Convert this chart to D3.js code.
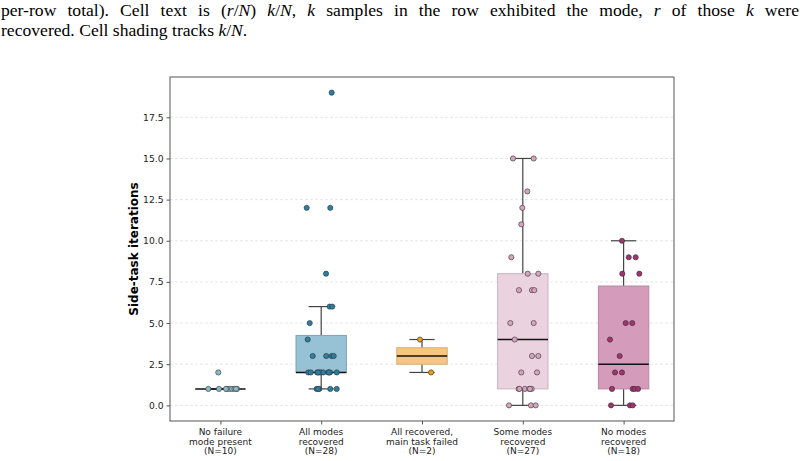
<!DOCTYPE html>
<html>
<head>
<meta charset="utf-8">
<script src="https://cdn.jsdelivr.net/npm/d3@7"></script>
<style>
  html, body { margin: 0; padding: 0; background: #fff; }
  svg { display: block; }
</style>
</head>
<body>
<svg id="chart" width="804" height="461"></svg>
<script>
// ---- data ----
const categories = [
  ["No failure", "mode present", "(N=10)"],
  ["All modes", "recovered", "(N=28)"],
  ["All recovered,", "main task failed", "(N=2)"],
  ["Some modes", "recovered", "(N=27)"],
  ["No modes", "recovered", "(N=18)"]
];
const valsNoFailure = [1,1,1,1,1,1,1,1,1,2];
const jitNoFailure  = [-0.12,-0.014,0.065,0.09,0.115,0.14,0.165,0.055,0.155,-0.021];
const valsAllRecovered = [19,12,12,8,6,6,5,4,3,3,3,3,2,2,2,2,2,2,2,2,2,2,2,1,1,1,1,1];
const jitAllRecovered  = [0.104,-0.144,0.09,0.048,0.084,0.11,-0.114,-0.134,-0.084,0.05,0.104,0.124,
  -0.128,-0.104,-0.039,-0.019,-0.002,0.021,0.07,0.087,0.154,-0.032,0.077,-0.045,-0.019,0.09,0.154,-0.03];
const valsMainFailed = [4,2];
const jitMainFailed  = [-0.02,0.09];
const valsSome = [15,15,13,12,11,9,8,8,7,7,7,5,5,4,3,3,2,2,1,1,1,1,1,1,0,0,0];
const jitSome  = [-0.097,0.108,0.045,-0.005,-0.015,-0.114,0.049,0.154,-0.038,0.091,0.114,-0.124,0.108,
  -0.08,0.091,0.154,-0.015,0.141,-0.041,0.022,0.064,0.088,0.071,-0.033,-0.137,0.081,0.128];
const valsNone = [10,9,9,8,8,5,5,4,3,2,2,1,1,1,1,0,0,0];
const jitNone  = [-0.016,0.051,0.12,-0.013,0.156,0.021,0.086,-0.135,-0.039,-0.085,-0.016,-0.115,0.09,0.11,0.143,-0.125,0.063,0.09];
const seriesValues = [valsNoFailure, valsAllRecovered, valsMainFailed, valsSome, valsNone];
const seriesJitter = [jitNoFailure, jitAllRecovered, jitMainFailed, jitSome, jitNone];
const yTicks = [0, 2.5, 5, 7.5, 10, 12.5, 15, 17.5];
const yLabel = "Side-task iterations";

// ---- styles ----
const pointColors = ["#8fb9c7", "#2c7ea3", "#eb9b1a", "#d6a4be", "#a3326f"];
const boxColors   = ["#c4dbe3", "#97c1d4", "#f7c680", "#ead2df", "#d49bbb"];
const boxEdges    = ["#9fb5bd", "#7fa4b5", "#d8ac6e", "#c9b4c0", "#b886a2"];

const svg = d3.select("#chart");
const m = {left: 170, right: 674, top: 77, bottom: 421};

// caption text at top
const cap = svg.append("g").attr("font-family", "Liberation Serif, Times New Roman, serif").attr("font-size", 17.6).attr("fill", "#000");
const l1 = cap.append("text").attr("x", 1).attr("y", 16);
const parts1 = [
  ["per-row total). Cell text is (", false], ["r", true], ["/", false], ["N", true], [") ", false],
  ["k", true], ["/", false], ["N", true], [", ", false], ["k", true],
  [" samples in the row exhibited the mode, ", false], ["r", true], [" of those ", false], ["k", true], [" were", false]
];
parts1.forEach(p => l1.append("tspan").attr("font-style", p[1] ? "italic" : "normal").text(p[0]));
{
  const natural = l1.node().getComputedTextLength();
  const spaces = parts1.map(p => p[0]).join("").split(" ").length - 1;
  const ws = Math.max(0, (798 - natural) / spaces);
  l1.attr("word-spacing", ws);
}
const l2 = cap.append("text").attr("x", 1).attr("y", 36);
const parts2 = [["recovered. Cell shading tracks ", false], ["k", true], ["/", false], ["N", true], [".", false]];
parts2.forEach(p => l2.append("tspan").attr("font-style", p[1] ? "italic" : "normal").text(p[0]));

// scales
const x = d3.scaleLinear().domain([-0.5, 4.5]).range([m.left, m.right]);
const y = d3.scaleLinear().domain([-0.95, 19.95]).range([m.bottom, m.top]);
const bw = 0.5;

// grid
svg.append("g").selectAll("line").data(yTicks).join("line")
  .attr("x1", m.left).attr("x2", m.right)
  .attr("y1", d => y(d)).attr("y2", d => y(d))
  .attr("stroke", "#dcdcdc").attr("stroke-width", 0.7).attr("stroke-dasharray", "3,2");

// boxes
categories.forEach((c, i) => {
  const v = seriesValues[i].slice().sort(d3.ascending);
  const q1 = d3.quantile(v, 0.25), med = d3.quantile(v, 0.5), q3 = d3.quantile(v, 0.75);
  const iqr = q3 - q1;
  const lo = d3.min(v.filter(d => d >= q1 - 1.5 * iqr));
  const hi = d3.max(v.filter(d => d <= q3 + 1.5 * iqr));
  const g = svg.append("g");
  const cx = x(i);
  const half = x(bw / 2) - x(0);
  const capHalf = half / 2;
  g.append("line").attr("x1", cx).attr("x2", cx).attr("y1", y(q3)).attr("y2", y(hi)).attr("stroke", "#444").attr("stroke-width", 1.2);
  g.append("line").attr("x1", cx).attr("x2", cx).attr("y1", y(q1)).attr("y2", y(lo)).attr("stroke", "#444").attr("stroke-width", 1.2);
  g.append("line").attr("x1", cx - capHalf).attr("x2", cx + capHalf).attr("y1", y(hi)).attr("y2", y(hi)).attr("stroke", "#444").attr("stroke-width", 1.2);
  g.append("line").attr("x1", cx - capHalf).attr("x2", cx + capHalf).attr("y1", y(lo)).attr("y2", y(lo)).attr("stroke", "#444").attr("stroke-width", 1.2);
  g.append("rect").attr("x", cx - half).attr("width", 2 * half)
    .attr("y", y(q3)).attr("height", Math.max(0, y(q1) - y(q3)))
    .attr("fill", boxColors[i]).attr("stroke", boxEdges[i]).attr("stroke-width", 1);
  g.append("line").attr("x1", cx - half).attr("x2", cx + half).attr("y1", y(med)).attr("y2", y(med))
    .attr("stroke", "#111").attr("stroke-width", 1.5);
  // points
  g.selectAll("circle").data(v.map((d, k) => k)).join("circle")
    .attr("cx", k => x(i + seriesJitter[i][k]))
    .attr("cy", k => y(seriesValues[i][k]))
    .attr("r", 2.6)
    .attr("fill", pointColors[i]).attr("stroke", "#333").attr("stroke-width", 0.6);
});

// axes frame
svg.append("rect").attr("x", m.left).attr("y", m.top).attr("width", m.right - m.left).attr("height", m.bottom - m.top)
  .attr("fill", "none").attr("stroke", "#555").attr("stroke-width", 1);

const yAxis = d3.axisLeft(y).tickValues(yTicks).tickFormat(d3.format(".1f")).tickSize(3.5).tickPadding(3);
const ya = svg.append("g").attr("transform", `translate(${m.left},0)`).call(yAxis);
ya.select(".domain").remove();
ya.selectAll("line").attr("stroke", "#555");
ya.selectAll("text").attr("font-family", "DejaVu Sans, sans-serif").attr("font-size", 9.2).attr("fill", "#222");

const xAxis = d3.axisBottom(x).tickValues(d3.range(categories.length)).tickFormat("").tickSize(3.5);
const xa = svg.append("g").attr("transform", `translate(0,${m.bottom})`).call(xAxis);
xa.select(".domain").remove();
xa.selectAll("line").attr("stroke", "#555");

categories.forEach((c, i) => {
  const t = svg.append("text").attr("x", x(i)).attr("y", 435).attr("text-anchor", "middle")
    .attr("font-family", "DejaVu Sans, sans-serif").attr("font-size", 9).attr("fill", "#222");
  c.forEach((line, j) => t.append("tspan").attr("x", x(i)).attr("dy", j === 0 ? 0 : 9.5).text(line));
});

svg.append("text").attr("transform", `translate(138,${(m.top + m.bottom) / 2}) rotate(-90)`)
  .attr("text-anchor", "middle").attr("font-family", "DejaVu Sans, sans-serif").attr("font-weight", "bold")
  .attr("font-size", 12).attr("fill", "#000").text(yLabel);
</script>
</body>
</html>
